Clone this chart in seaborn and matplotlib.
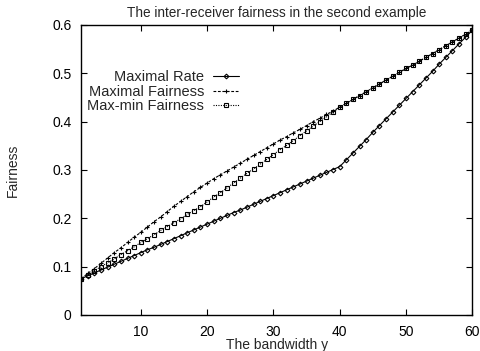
import matplotlib
matplotlib.use("Agg")
import matplotlib.pyplot as plt
import seaborn as sns
import pandas as pd
from matplotlib.ticker import FormatStrFormatter

bandwidth = list(range(1, 61))

maximal_rate = [
    0.075, 0.081, 0.087, 0.093, 0.099, 0.105, 0.111, 0.117, 0.123, 0.129,
    0.135, 0.140, 0.146, 0.152, 0.158, 0.164, 0.170, 0.176, 0.182, 0.188,
    0.194, 0.200, 0.206, 0.212, 0.217, 0.223, 0.229, 0.235, 0.241, 0.247,
    0.253, 0.259, 0.265, 0.271, 0.277, 0.283, 0.289, 0.295, 0.301, 0.307,
    0.321, 0.335, 0.349, 0.363, 0.378, 0.392, 0.406, 0.420, 0.434, 0.448,
    0.462, 0.476, 0.490, 0.504, 0.519, 0.533, 0.547, 0.561, 0.575, 0.589,
]

maximal_fairness = [
    0.075, 0.086, 0.096, 0.107, 0.118, 0.129, 0.139, 0.150, 0.161, 0.171,
    0.182, 0.193, 0.203, 0.214, 0.225, 0.235, 0.245, 0.255, 0.264, 0.273,
    0.282, 0.290, 0.298, 0.306, 0.314, 0.322, 0.330, 0.338, 0.346, 0.354,
    0.362, 0.369, 0.377, 0.384, 0.392, 0.400, 0.407, 0.415, 0.422, 0.430,
    0.438, 0.446, 0.454, 0.462, 0.470, 0.478, 0.486, 0.494, 0.502, 0.510,
    0.517, 0.525, 0.533, 0.541, 0.549, 0.557, 0.565, 0.573, 0.581, 0.589,
]

maxmin_fairness = [
    0.075, 0.083, 0.092, 0.100, 0.108, 0.116, 0.125, 0.133, 0.141, 0.150,
    0.158, 0.166, 0.175, 0.183, 0.191, 0.199, 0.208, 0.216, 0.224, 0.234,
    0.244, 0.253, 0.263, 0.273, 0.283, 0.293, 0.302, 0.312, 0.322, 0.332,
    0.342, 0.351, 0.361, 0.371, 0.381, 0.391, 0.400, 0.410, 0.420, 0.430,
    0.438, 0.446, 0.454, 0.462, 0.470, 0.478, 0.486, 0.494, 0.502, 0.510,
    0.517, 0.525, 0.533, 0.541, 0.549, 0.557, 0.565, 0.573, 0.581, 0.589,
]

series_names = ["Maximal Rate", "Maximal Fairness", "Max-min Fairness"]

sns.set_style("ticks")
plt.rcParams['font.family'] = ['Liberation Sans', 'DejaVu Sans']

fig = plt.figure(figsize=(4.8, 3.51), dpi=100)
ax = fig.add_axes([0.169, 0.1026, 0.815, 0.8262])

# gnuplot-ish point/line types
styles = [
    dict(marker="D", markersize=2.4, markerfacecolor="none", markeredgewidth=0.8, linestyle="-"),
    dict(marker="+", markersize=3.4, markerfacecolor="none", markeredgewidth=0.8, linestyle=(0, (2.5, 1.5))),
    dict(marker="s", markersize=3.2, markerfacecolor="none", markeredgewidth=0.8, linestyle=(0, (1, 1.2))),
]

for name, vals in zip(series_names, [maximal_rate, maximal_fairness, maxmin_fairness]):
    frame = pd.DataFrame({"bandwidth": bandwidth, "fairness": vals})
    sns.lineplot(data=frame, x="bandwidth", y="fairness", ax=ax, color="black",
                 linewidth=0.8, label=name, legend=False)

for line, st in zip(ax.lines, styles):
    line.set(**st)
    line.set_markeredgecolor("black")

ax.set_xlim(1, 60)
ax.set_ylim(0, 0.6)
ax.set_xticks([10, 20, 30, 40, 50, 60])
ax.set_yticks([0, 0.1, 0.2, 0.3, 0.4, 0.5, 0.6])
ax.yaxis.set_major_formatter(FormatStrFormatter('%g'))
ax.tick_params(direction="in", top=True, right=True, length=4, width=0.8,
               labelsize=10, pad=7, colors="black")
for sp in ax.spines.values():
    sp.set_linewidth(1.0)
    sp.set_color("black")

ax.set_title("The inter-receiver fairness in the second example", fontsize=9.8, pad=6)
ax.set_xlabel("The bandwidth y", fontsize=10)
ax.xaxis.set_label_coords(0.5, -0.078)
ax.set_ylabel("Fairness", fontsize=10)
ax.yaxis.set_label_coords(-0.156, 0.5)

ax.legend(handles=ax.lines, labels=series_names, loc="upper right",
          bbox_to_anchor=(0.422, 0.87), frameon=False,
          markerfirst=False, numpoints=1, handlelength=1.8, handletextpad=0.6,
          labelspacing=0.05, fontsize=10.5, borderpad=0)

fig.savefig("out.png", dpi=100)
